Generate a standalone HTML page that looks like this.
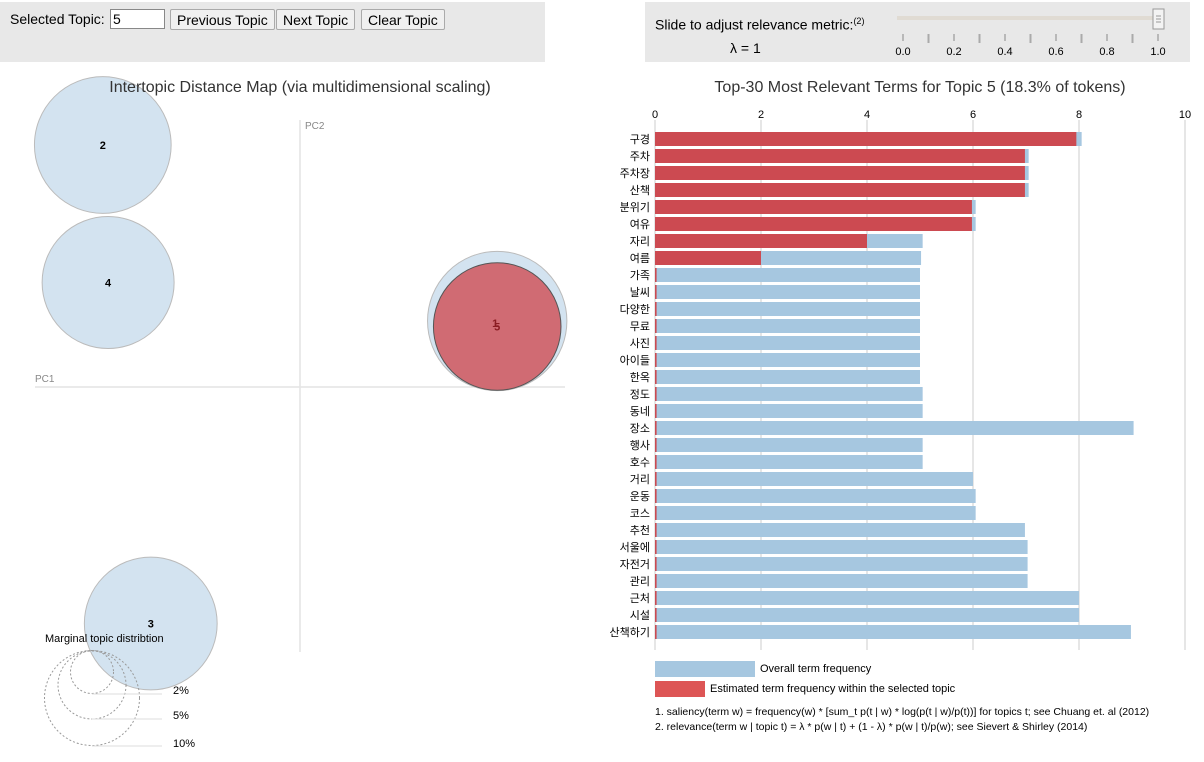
<!DOCTYPE html>
<html><head><meta charset="utf-8">
<style>
body{margin:0;width:1204px;height:762px;background:#fff;font-family:"Liberation Sans","Noto Sans CJK KR",sans-serif;overflow:hidden;position:relative}
.box{position:absolute;background:#e8e8e8}
button{font-family:"Liberation Sans",sans-serif;font-size:14px;padding:1px 6px;background:#f0f0f0;border:1px solid #aaa;border-radius:2px;position:absolute;height:21px}
</style></head><body>
<div class="box" style="left:0;top:2px;width:545px;height:60px">
<span style="position:absolute;left:10px;top:9px;font-size:14px">Selected Topic:</span>
<input value="5" style="position:absolute;left:110px;top:7px;width:49px;height:16px;font-size:14px;border:1px solid #888;padding:1px 2px">
<button style="left:170px;top:7px">Previous Topic</button>
<button style="left:276px;top:7px">Next Topic</button>
<button style="left:361px;top:7px">Clear Topic</button>
</div>
<div class="box" style="left:645px;top:2px;width:545px;height:60px">
<span style="position:absolute;left:10px;top:14px;font-size:14px">Slide to adjust relevance metric:<sup style="font-size:9px">(2)</sup></span>
<span style="position:absolute;left:85px;top:38px;font-size:14px">λ = 1</span>
</div>
<svg width="1204" height="762" style="position:absolute;left:0;top:0" font-family="Liberation Sans, Noto Sans CJK KR, sans-serif">
<g>
<rect x="897" y="16" width="258" height="4" fill="#e0dbd3"/>
<rect x="1153" y="9" width="11" height="20" fill="#f3f3f3" stroke="#999"/>
<line x1="1156" y1="16" x2="1161" y2="16" stroke="#999"/><line x1="1156" y1="19" x2="1161" y2="19" stroke="#999"/><line x1="1156" y1="22" x2="1161" y2="22" stroke="#999"/>
<g id="sticks" font-size="11" fill="#000" text-anchor="middle"></g>
</g>
<line x1="35" y1="387" x2="565" y2="387" stroke="#e4e4e4" stroke-width="1.5"/>
<line x1="300" y1="120" x2="300" y2="652" stroke="#e4e4e4" stroke-width="1.5"/>
<text x="35" y="382" font-size="10" fill="#888">PC1</text>
<text x="305" y="129" font-size="10" fill="#888">PC2</text>
<g id="circles"></g>
<text x="300" y="92" font-size="16" text-anchor="middle" fill="#333">Intertopic Distance Map (via multidimensional scaling)</text>
<text x="45" y="642" font-size="11" fill="#000">Marginal topic distribtion</text>
<g fill="none" stroke="#999" stroke-dasharray="2,2">
<circle cx="92" cy="672" r="21.5"/><circle cx="92" cy="685" r="34"/><circle cx="92" cy="698" r="47.5"/>
</g>
<g stroke="#ddd"><line x1="92" y1="694" x2="162" y2="694"/><line x1="92" y1="719" x2="162" y2="719"/><line x1="92" y1="746" x2="162" y2="746"/></g>
<g font-size="11" fill="#000"><text x="173" y="694">2%</text><text x="173" y="719">5%</text><text x="173" y="747">10%</text></g>
<text x="920" y="92" font-size="16" text-anchor="middle" fill="#333">Top-30 Most Relevant Terms for Topic 5 (18.3% of tokens)</text>
<g id="bars"></g>
<g>
<rect x="655" y="661" width="100" height="16" fill="#a6c7e0"/><text x="760" y="672" font-size="11">Overall term frequency</text>
<rect x="655" y="681" width="50" height="16" fill="#dd5555"/><text x="710" y="692" font-size="11">Estimated term frequency within the selected topic</text>
<text x="655" y="715" font-size="10.5">1. saliency(term w) = frequency(w) * [sum_t p(t | w) * log(p(t | w)/p(t))] for topics t; see Chuang et. al (2012)</text>
<text x="655" y="730" font-size="10.5">2. relevance(term w | topic t) = λ * p(w | t) + (1 - λ) * p(w | t)/p(w); see Sievert &amp; Shirley (2014)</text>
</g>
</svg>
<script>
const NS='http://www.w3.org/2000/svg';
function mk(p,t,a){const e=document.createElementNS(NS,t);for(const k in a)e.setAttribute(k,a[k]);p.appendChild(e);return e;}
const terms=['구경','주차','주차장','산책','분위기','여유','자리','여름','가족','날씨','다양한','무료','사진','아이들','한옥','정도','동네','장소','행사','호수','거리','운동','코스','추천','서울에','자전거','관리','근처','시설','산책하기'];
const overall=[8.05,7.05,7.05,7.05,6.05,6.05,5.05,5.02,5,5,5,5,5,5,5,5.05,5.05,9.03,5.05,5.05,6,6.05,6.05,6.98,7.03,7.03,7.03,8.0,8.0,8.98];
const topicFreq=[7.95,6.98,6.98,6.98,5.98,5.98,4.0,2.0,0.03,0.03,0.03,0.03,0.03,0.03,0.03,0.03,0.03,0.03,0.03,0.03,0.03,0.03,0.03,0.03,0.03,0.03,0.03,0.03,0.03,0.03];
const xTicks=[0,2,4,6,8,10];
const sliderTicks=[0,0.1,0.2,0.3,0.4,0.5,0.6,0.7,0.8,0.9,1.0];
const topicIds=[1,2,3,4,5];
const topicPC1=[0.37,-0.37,-0.28,-0.36,0.37];
const topicPC2=[0.12,0.44,-0.43,0.19,0.11];
const topicSize=[18.5,17.8,16.8,16.6,15.5];
const x=v=>655+v*53, y=i=>132+i*17;
const g=document.getElementById('bars');
xTicks.forEach(t=>{const l=mk(g,'line',{x1:x(t),x2:x(t),y1:120,y2:650,stroke:'#e6e6e6','stroke-width':2});


const tx=mk(g,'text',{x:x(t),y:118,'font-size':11,'text-anchor':'middle'});tx.textContent=t;

});
terms.forEach((w,i)=>{
const b=mk(g,'rect',{x:x(0),y:y(i),width:overall[i]*53,height:14,fill:'#a6c7e0'});


const r=mk(g,'rect',{x:x(0),y:y(i),width:topicFreq[i]*53,height:14,fill:'#cc4a51'});


const t=mk(g,'text',{x:650,y:y(i)+11,'font-size':11,'text-anchor':'end'});t.textContent=w;

});
const s=document.getElementById('sticks');
sliderTicks.forEach((v,i)=>{const sx=903+v*255;
const l=mk(s,'line',{x1:sx,x2:sx,y1:34,y2:i%2?43:41,stroke:i%2?'#aaa':'#888','stroke-width':i%2?2:1});


if(i%2==0){const t=mk(s,'text',{x:sx,y:55});t.textContent=v.toFixed(1);

}});
const c=document.getElementById('circles');
const px=v=>300+v*533, py=v=>387-v*550, rr=v=>Math.sqrt(v)*16.2;
topicIds.forEach((id,i)=>{const sel=id===5;
const e=mk(c,'circle',{cx:px(topicPC1[i]),cy:py(topicPC2[i]),r:rr(topicSize[i]),fill:sel?'#d0646b':'#c8dcec','fill-opacity':sel?0.95:0.8,stroke:sel?'#555':'#bbb'});

});
topicIds.forEach((id,i)=>{const sel=id===5||id===1;
const t=mk(c,'text',{x:px(topicPC1[i])-(id===1?2:0),y:py(topicPC2[i])+(id===5?4:(id===1?6:4)),'font-size':11,'font-weight':'bold','text-anchor':'middle',fill:sel?'#8a1c22':'#000'});t.textContent=id;

});
</script>
</body></html>
